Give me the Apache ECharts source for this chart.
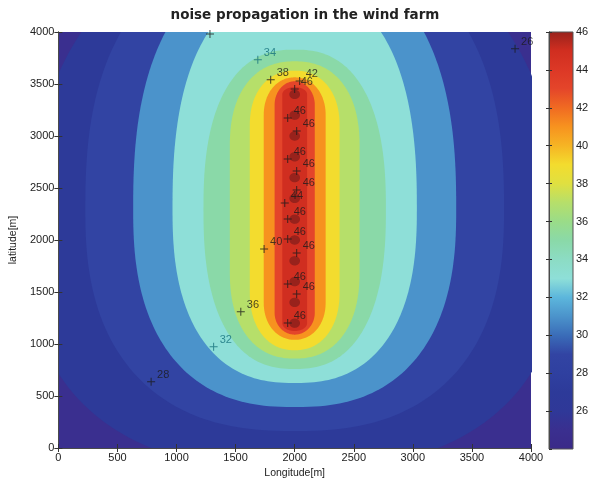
<!DOCTYPE html>
<html>
<head>
<meta charset="utf-8">
<script src="https://cdn.jsdelivr.net/npm/echarts@6/dist/echarts.min.js"></script>
<style>
  html, body { margin: 0; padding: 0; background: #ffffff; }
  #chart { width: 595px; height: 484px; }
</style>
</head>
<body>
<div id="chart"></div>
<script>
// Turbine row along x = 2000 m
const turbineX = 2000;
const turbineY = [1200, 1400, 1600, 1800, 2000, 2200, 2400, 2600, 2800, 3000, 3200, 3400];

// Filled contour levels (dB) and the outline of each level line, in metres:
// half width across the row, straight stretch [segBottom, segTop] and the
// height of the rounded cap below / above it, plus the cap exponent.
const contourLevels    = [26,   28,   30,   32,   34,   36,   38,   40,   42,   44];
const contourHalfWidth = [2250, 1772, 1367, 1034, 772,  549,  380,  262,  170,  105];
const contourSegBottom = [1900, 2300, 2300, 2300, 2295, 1700, 1500, 1400, 1300, 1200];
const contourSegTop    = [1900, 2300, 2300, 2300, 2295, 2900, 3100, 3200, 3300, 3400];
const contourCapBottom = [2116, 2137, 1906, 1675, 1535, 840,  560,  360,  210,  75];
const contourCapTop    = [3043, 2560, 2420, 2133, 1535, 818,  528,  364,  226,  70];
const contourExponent  = [2.4,  2.45, 2.45, 2.45, 2.45, 2.3,  2.2,  2.1,  2.0,  2.0];
const peakLevel = 46;
const peakRadius = 45;

// Colour scale of the colour bar, one stop per dB from 24 to 46
const scaleMin = 24;
const scaleMax = 46;
const scaleColors = [
  '#3a2a88', '#3a2f8f', '#2f3898', '#2d3a99', '#2f40a0', '#3244a3',
  '#3a6cb8', '#4b93cb', '#5cb6dc', '#8edfd8', '#8cdcc4', '#8ad9a8',
  '#9adc88', '#b6df6a', '#e0e040', '#f3dc2e', '#f6b424', '#f7921f',
  '#f06a22', '#e4452a', '#dc3826', '#d02e20', '#98221c'
];

// Receptor points with their computed level
const receptorX = [1283, 1688, 1797, 2042, 2000, 1941, 2017, 1941, 2017, 2017, 1916,
                   1941, 1941, 2017, 1941, 2017, 1941, 1741, 1544, 1314, 785, 3865];
const receptorY = [3981, 3734, 3541, 3529, 3452, 3173, 3048, 2779, 2663, 2481, 2356,
                   2202, 2010, 1875, 1577, 1481, 1202, 1913, 1311, 974, 637, 3839];
const receptorLabel = ['', '34', '38', '42', '46', '46', '46', '46', '46', '46', '44',
                       '46', '46', '46', '46', '46', '46', '40', '36', '32', '28', '26'];

const axisMax = 4000;
const axisStep = 500;

function colorFor(v) {
  const i = Math.max(0, Math.min(scaleColors.length - 1, Math.round(v - scaleMin)));
  return scaleColors[i];
}

// Rounded outline: straight sides between two superelliptic caps
function outline(cx, a, s1, s2, cb, ct, p) {
  const pts = [];
  const n = 120;
  const e = 2 / p;
  for (let i = 0; i <= n; i++) {
    const t = Math.PI * i / n;
    const c = Math.cos(t), s = Math.sin(t);
    pts.push([cx + a * Math.sign(c) * Math.pow(Math.abs(c), e), s2 + ct * Math.pow(Math.abs(s), e)]);
  }
  for (let i = 0; i <= n; i++) {
    const t = Math.PI + Math.PI * i / n;
    const c = Math.cos(t), s = Math.sin(t);
    pts.push([cx + a * Math.sign(c) * Math.pow(Math.abs(c), e), s1 - cb * Math.pow(Math.abs(s), e)]);
  }
  return pts;
}

// Fill regions, drawn from the lowest band upwards
const regions = [];
regions.push({
  color: colorFor(contourLevels[0] - 1),
  pts: [[0, 0], [axisMax, 0], [axisMax, axisMax], [0, axisMax]]
});
contourLevels.forEach((lv, i) => {
  regions.push({
    color: colorFor(lv + 1),
    pts: outline(turbineX, contourHalfWidth[i], contourSegBottom[i], contourSegTop[i],
                 contourCapBottom[i], contourCapTop[i], contourExponent[i])
  });
});
turbineY.forEach(ty => {
  regions.push({
    color: colorFor(peakLevel),
    pts: outline(turbineX, peakRadius, ty, ty, peakRadius, peakRadius, 2)
  });
});

const labelFont = 'Liberation Sans, Arial, sans-serif';

function markColor(lbl) {
  return (lbl === '32' || lbl === '34') ? '#14707c' : '#1c1c1c';
}

const receptorData = receptorX.map((x, i) => ({
  value: [x, receptorY[i]],
  name: receptorLabel[i],
  itemStyle: { color: markColor(receptorLabel[i]) },
  label: { color: markColor(receptorLabel[i]) }
}));

const gradientStops = scaleColors.map((c, i) => ({
  offset: 1 - i / (scaleColors.length - 1),
  color: c
}));

const frameLine = { show: true, lineStyle: { color: '#4a4a4a', width: 1 } };
const innerTick = { show: true, inside: true, length: 4, lineStyle: { color: '#333333', width: 1 } };
const tickText = { color: '#222222', fontSize: 11, fontFamily: labelFont, formatter: v => String(v) };

const chart = echarts.init(document.getElementById('chart'), null, { renderer: 'canvas' });

chart.setOption({
  animation: false,
  backgroundColor: '#ffffff',
  title: {
    text: 'noise propagation in the wind farm',
    left: 300,
    textAlign: 'center',
    top: 3,
    textStyle: { fontSize: 13.5, fontWeight: 'bold', color: '#222222', fontFamily: 'DejaVu Sans, sans-serif' }
  },
  grid: [
    { left: 57, top: 32, width: 474, height: 416 },
    { left: 549, top: 32, width: 24, height: 417 }
  ],
  xAxis: [
    {
      type: 'value', gridIndex: 0, min: 0, max: axisMax, interval: axisStep, position: 'bottom',
      axisLine: frameLine, axisTick: innerTick, splitLine: { show: false },
      axisLabel: Object.assign({ margin: 4 }, tickText),
      name: 'Longitude[m]', nameLocation: 'middle', nameGap: 19,
      nameTextStyle: { color: '#222222', fontSize: 10.5, fontFamily: labelFont },
      z: 10
    },
    {
      type: 'value', gridIndex: 0, min: 0, max: axisMax, interval: axisStep, position: 'top',
      axisLine: frameLine, axisTick: innerTick, splitLine: { show: false },
      axisLabel: { show: false }, z: 10
    },
    { type: 'value', gridIndex: 1, min: 0, max: 1, show: false }
  ],
  yAxis: [
    {
      type: 'value', gridIndex: 0, min: 0, max: axisMax, interval: axisStep, position: 'left',
      axisLine: frameLine, axisTick: innerTick, splitLine: { show: false },
      axisLabel: Object.assign({ margin: 4 }, tickText),
      name: 'latitude[m]', nameLocation: 'middle', nameGap: 38, nameRotate: 90,
      nameTextStyle: { color: '#222222', fontSize: 10.5, fontFamily: labelFont },
      z: 10
    },
    {
      type: 'value', gridIndex: 0, min: 0, max: axisMax, interval: axisStep, position: 'right',
      axisLine: frameLine, axisTick: innerTick, splitLine: { show: false },
      axisLabel: { show: false }, z: 10
    },
    {
      type: 'value', gridIndex: 1, min: scaleMin, max: scaleMax, interval: 2, position: 'right',
      axisLine: frameLine, splitLine: { show: false },
      axisTick: { show: true, inside: true, length: 3, lineStyle: { color: '#333333' } },
      axisLabel: Object.assign({ margin: 3, showMinLabel: false }, tickText),
      z: 10
    },
    {
      type: 'value', gridIndex: 1, min: scaleMin, max: scaleMax, interval: 2, position: 'left',
      axisLine: frameLine, splitLine: { show: false },
      axisTick: { show: true, inside: true, length: 3, lineStyle: { color: '#333333' } },
      axisLabel: { show: false }, z: 10
    }
  ],
  series: [
    {
      name: 'noise level',
      type: 'custom',
      xAxisIndex: 0,
      yAxisIndex: 0,
      clip: true,
      silent: true,
      z: 1,
      data: regions.map((r, i) => [i]),
      renderItem: function (params, api) {
        const r = regions[params.dataIndex];
        return {
          type: 'polygon',
          shape: { points: r.pts.map(p => api.coord(p)) },
          style: { fill: r.color, stroke: null }
        };
      }
    },
    {
      name: 'receptors',
      type: 'scatter',
      xAxisIndex: 0,
      yAxisIndex: 0,
      z: 4,
      symbol: 'path://M3.5 0H4.5V8H3.5Z M0 3.5H8V4.5H0Z',
      symbolSize: 8,
      data: receptorData,
      label: {
        show: true,
        position: 'right',
        distance: 2,
        offset: [0, -7],
        fontSize: 11,
        fontFamily: labelFont,
        formatter: p => p.name
      }
    },
    {
      name: 'colour bar',
      type: 'custom',
      xAxisIndex: 2,
      yAxisIndex: 2,
      silent: true,
      z: 1,
      data: [[0]],
      renderItem: function (params, api) {
        const top = api.coord([0, scaleMax]);
        const bottom = api.coord([1, scaleMin]);
        return {
          type: 'rect',
          shape: { x: top[0], y: top[1], width: bottom[0] - top[0], height: bottom[1] - top[1] },
          style: {
            fill: new echarts.graphic.LinearGradient(0, 0, 0, 1, gradientStops),
            stroke: '#555555',
            lineWidth: 1
          }
        };
      }
    }
  ]
});
</script>
</body>
</html>
